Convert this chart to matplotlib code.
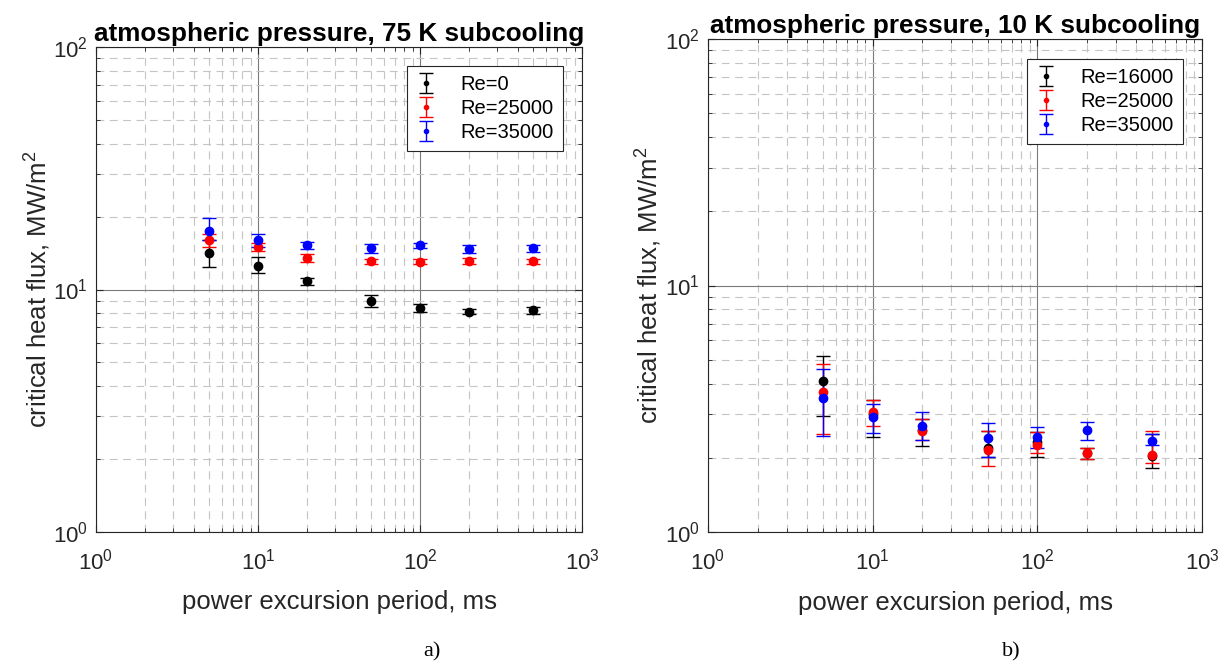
import matplotlib
matplotlib.use("Agg")
import matplotlib.pyplot as plt
import numpy as np
from matplotlib.ticker import LogLocator, NullFormatter

plt.rcParams["font.family"] = ["Liberation Sans", "DejaVu Sans"]
plt.rcParams["mathtext.fontset"] = "custom"
plt.rcParams["mathtext.rm"] = "Liberation Sans"
plt.rcParams["mathtext.it"] = "Liberation Sans"

period = [5, 10, 20, 50, 100, 200, 500]

# panel a) 75 K subcooling
a_labels = ["Re=0", "Re=25000", "Re=35000"]
a_chf = [
    [14.2, 12.5, 10.8, 9.0, 8.4, 8.1, 8.2],
    [16.0, 15.0, 13.5, 13.1, 13.0, 13.1, 13.1],
    [17.5, 16.0, 15.2, 14.8, 15.2, 14.7, 14.8],
]
a_low = [
    [12.4, 11.7, 10.4, 8.5, 8.1, 7.9, 7.9],
    [15.0, 14.4, 13.0, 12.8, 12.7, 12.7, 12.8],
    [16.0, 15.0, 14.7, 14.2, 14.8, 14.2, 14.3],
]
a_high = [
    [16.0, 13.6, 11.2, 9.5, 8.7, 8.3, 8.5],
    [17.0, 15.6, 14.0, 13.4, 13.3, 13.5, 13.4],
    [19.8, 17.0, 15.7, 15.4, 15.6, 15.2, 15.3],
]

# panel b) 10 K subcooling
b_labels = ["Re=16000", "Re=25000", "Re=35000"]
b_chf = [
    [4.1, 3.0, 2.6, 2.2, 2.32, 2.1, 2.04],
    [3.7, 3.06, 2.56, 2.16, 2.26, 2.1, 2.05],
    [3.5, 2.92, 2.68, 2.41, 2.44, 2.6, 2.35],
]
b_low = [
    [2.95, 2.42, 2.24, 2.02, 2.02, 1.98, 1.82],
    [2.5, 2.68, 2.37, 1.86, 2.1, 1.98, 1.9],
    [2.45, 2.53, 2.37, 2.02, 2.2, 2.37, 2.26],
]
b_high = [
    [5.2, 3.43, 2.87, 2.56, 2.55, 2.2, 2.5],
    [4.8, 3.43, 2.87, 2.56, 2.55, 2.2, 2.56],
    [4.6, 3.3, 3.06, 2.78, 2.67, 2.8, 2.5],
]

colors = ["black", "red", "blue"]
text_col = "#262626"


def draw_panel(ax, title, labels, chf, low, high, legend_anchor):
    for lab, y, lo, hi, c in zip(labels, chf, low, high, colors):
        y = np.array(y)
        yerr = [y - np.array(lo), np.array(hi) - y]
        ax.errorbar(period, y, yerr=yerr, fmt="o", color=c, ms=6,
                    capsize=4.8, elinewidth=1.0, capthick=1.0, label=lab)
    ax.set_xscale("log")
    ax.set_yscale("log")
    ax.set_xlim(1, 1000)
    ax.set_ylim(1, 100)
    ax.xaxis.set_minor_locator(LogLocator(base=10, subs=np.arange(2, 10)))
    ax.yaxis.set_minor_locator(LogLocator(base=10, subs=np.arange(2, 10)))
    ax.xaxis.set_minor_formatter(NullFormatter())
    ax.yaxis.set_minor_formatter(NullFormatter())
    ax.grid(True, which="major", color="#7a7a7a", linewidth=0.8)
    ax.grid(True, which="minor", color="#c4c4c4", linewidth=0.8,
            linestyle=(0, (7, 5)))
    ax.set_axisbelow(True)
    ax.tick_params(which="both", direction="in", top=True, right=True,
                   labelsize=16, colors=text_col)
    ax.tick_params(axis="x", which="major", pad=12)
    ax.tick_params(axis="y", which="major", pad=6)
    ax.tick_params(which="major", length=5)
    ax.tick_params(which="minor", length=3)
    for s in ax.spines.values():
        s.set_color(text_col)
        s.set_linewidth(0.8)
    ax.set_xlabel("power excursion period, ms", fontsize=18.5, color=text_col)
    ax.set_ylabel("critical heat flux, MW/m$^2$", fontsize=18.5, color=text_col)
    ax.xaxis.label.set_va("center")
    ax.yaxis.label.set_va("center")
    ax.xaxis.set_label_coords(0.5, -0.144)
    ax.yaxis.set_label_coords(-0.12, 0.5)
    ax.set_title(title, fontsize=18.8, fontweight="bold", pad=4)
    leg = ax.legend(loc="upper right", bbox_to_anchor=legend_anchor,
                    borderaxespad=0, fontsize=14.5, frameon=True,
                    fancybox=False, edgecolor=text_col, handlelength=1.0,
                    handletextpad=1.2, borderpad=0.45, labelspacing=0.25,
                    markerscale=0.5, framealpha=1)
    leg.get_frame().set_linewidth(0.8)


fig = plt.figure(figsize=(12.28, 6.71), dpi=100)
ax1 = fig.add_axes([96 / 1228, 1 - 532 / 671, 486 / 1228, 485 / 671])
ax2 = fig.add_axes([708 / 1228, 1 - 532 / 671, 494 / 1228, 493 / 671])

draw_panel(ax1, "atmospheric pressure, 75 K subcooling", a_labels,
           a_chf, a_low, a_high, (0.961, 0.961))
draw_panel(ax2, "atmospheric pressure, 10 K subcooling", b_labels,
           b_chf, b_low, b_high, (0.9615, 0.959))

fig.text(432 / 1228, 1 - 652 / 671, "a)", fontsize=16,
         family=["Liberation Serif"], ha="center", va="center")
fig.text(1011 / 1228, 1 - 652 / 671, "b)", fontsize=16,
         family=["Liberation Serif"], ha="center", va="center")

fig.savefig("out.png", dpi=100)
